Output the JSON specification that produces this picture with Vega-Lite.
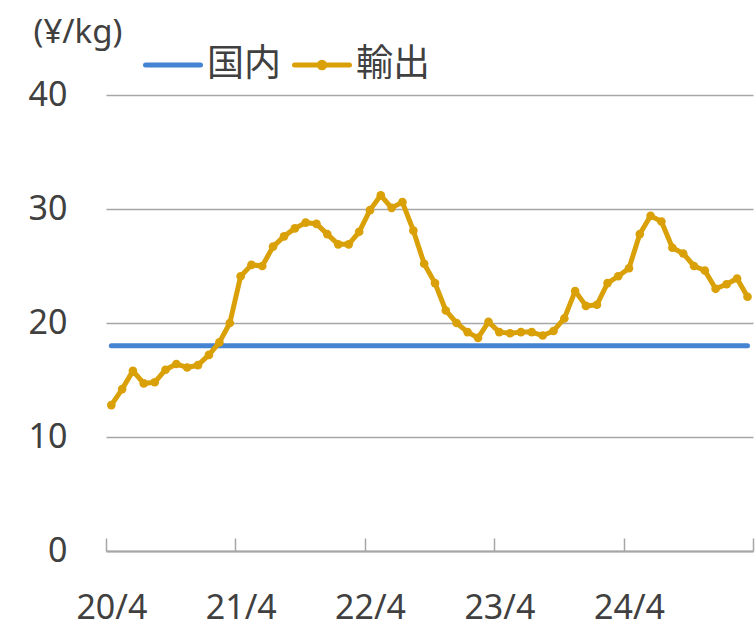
{
  "$schema": "https://vega.github.io/schema/vega-lite/v6.json",
  "width": 647,
  "height": 456,
  "autosize": {"type": "none"},
  "padding": {"left": 106, "top": 95, "right": 2, "bottom": 83},
  "background": "white",
  "config": {
    "view": {"stroke": null},
    "font": "Noto Sans, Noto Sans CJK JP",
    "axis": {
      "labelFont": "Noto Sans, Noto Sans CJK JP",
      "titleFont": "Noto Sans, Noto Sans CJK JP",
      "labelColor": "#404040",
      "titleColor": "#404040",
      "gridColor": "#A6A6A6",
      "gridWidth": 1.3,
      "domainColor": "#A6A6A6",
      "tickColor": "#A6A6A6"
    },
    "axisX": {
      "grid": false,
      "labelAngle": 0,
      "labelFontSize": 34,
      "labelPadding": 53,
      "tickSize": -13,
      "tickWidth": 1.5,
      "domainWidth": 2,
      "labelFlush": false,
      "labelOverlap": false
    },
    "axisY": {
      "domain": false,
      "ticks": false,
      "tickSize": 0,
      "labelFontSize": 34,
      "labelPadding": 39,
      "titleAngle": 0,
      "titleAlign": "left",
      "titleBaseline": "middle",
      "titleX": -73,
      "titleY": -63,
      "titleFontSize": 33,
      "titleFontWeight": "normal"
    },
    "legend": {
      "orient": "none",
      "legendX": 37,
      "legendY": -60,
      "direction": "horizontal",
      "labelFont": "Noto Sans CJK JP",
      "labelFontSize": 37,
      "labelColor": "#404040",
      "symbolSize": 3025,
      "symbolStrokeWidth": 5,
      "labelOffset": 4,
      "columnPadding": 3,
      "padding": 0
    }
  },
  "data": {
    "values": [
      {"m": "2020-04", "domestic": 18, "export": 12.8},
      {"m": "2020-05", "domestic": 18, "export": 14.2},
      {"m": "2020-06", "domestic": 18, "export": 15.8},
      {"m": "2020-07", "domestic": 18, "export": 14.7},
      {"m": "2020-08", "domestic": 18, "export": 14.8},
      {"m": "2020-09", "domestic": 18, "export": 15.9},
      {"m": "2020-10", "domestic": 18, "export": 16.4},
      {"m": "2020-11", "domestic": 18, "export": 16.1},
      {"m": "2020-12", "domestic": 18, "export": 16.3},
      {"m": "2021-01", "domestic": 18, "export": 17.2},
      {"m": "2021-02", "domestic": 18, "export": 18.3},
      {"m": "2021-03", "domestic": 18, "export": 20.0},
      {"m": "2021-04", "domestic": 18, "export": 24.1},
      {"m": "2021-05", "domestic": 18, "export": 25.1},
      {"m": "2021-06", "domestic": 18, "export": 25.0},
      {"m": "2021-07", "domestic": 18, "export": 26.7},
      {"m": "2021-08", "domestic": 18, "export": 27.6},
      {"m": "2021-09", "domestic": 18, "export": 28.3},
      {"m": "2021-10", "domestic": 18, "export": 28.8},
      {"m": "2021-11", "domestic": 18, "export": 28.7},
      {"m": "2021-12", "domestic": 18, "export": 27.8},
      {"m": "2022-01", "domestic": 18, "export": 26.9},
      {"m": "2022-02", "domestic": 18, "export": 26.9},
      {"m": "2022-03", "domestic": 18, "export": 28.0},
      {"m": "2022-04", "domestic": 18, "export": 29.9},
      {"m": "2022-05", "domestic": 18, "export": 31.2},
      {"m": "2022-06", "domestic": 18, "export": 30.1},
      {"m": "2022-07", "domestic": 18, "export": 30.6},
      {"m": "2022-08", "domestic": 18, "export": 28.1},
      {"m": "2022-09", "domestic": 18, "export": 25.2},
      {"m": "2022-10", "domestic": 18, "export": 23.5},
      {"m": "2022-11", "domestic": 18, "export": 21.1},
      {"m": "2022-12", "domestic": 18, "export": 20.0},
      {"m": "2023-01", "domestic": 18, "export": 19.2},
      {"m": "2023-02", "domestic": 18, "export": 18.7},
      {"m": "2023-03", "domestic": 18, "export": 20.1},
      {"m": "2023-04", "domestic": 18, "export": 19.2},
      {"m": "2023-05", "domestic": 18, "export": 19.1},
      {"m": "2023-06", "domestic": 18, "export": 19.2},
      {"m": "2023-07", "domestic": 18, "export": 19.2},
      {"m": "2023-08", "domestic": 18, "export": 18.9},
      {"m": "2023-09", "domestic": 18, "export": 19.3},
      {"m": "2023-10", "domestic": 18, "export": 20.4},
      {"m": "2023-11", "domestic": 18, "export": 22.8},
      {"m": "2023-12", "domestic": 18, "export": 21.5},
      {"m": "2024-01", "domestic": 18, "export": 21.6},
      {"m": "2024-02", "domestic": 18, "export": 23.5},
      {"m": "2024-03", "domestic": 18, "export": 24.1},
      {"m": "2024-04", "domestic": 18, "export": 24.8},
      {"m": "2024-05", "domestic": 18, "export": 27.8},
      {"m": "2024-06", "domestic": 18, "export": 29.4},
      {"m": "2024-07", "domestic": 18, "export": 28.9},
      {"m": "2024-08", "domestic": 18, "export": 26.6},
      {"m": "2024-09", "domestic": 18, "export": 26.1},
      {"m": "2024-10", "domestic": 18, "export": 25.0},
      {"m": "2024-11", "domestic": 18, "export": 24.6},
      {"m": "2024-12", "domestic": 18, "export": 23.0},
      {"m": "2025-01", "domestic": 18, "export": 23.4},
      {"m": "2025-02", "domestic": 18, "export": 23.9},
      {"m": "2025-03", "domestic": 18, "export": 22.3}
    ]
  },
  "layer": [
    {
      "mark": {"type": "line", "strokeWidth": 5, "strokeCap": "round"},
      "encoding": {
        "x": {
          "field": "m", "type": "temporal", "timeUnit": "utcyearmonth", "bandPosition": 0.5, "title": null,
          "scale": {"domain": [{"year": 2020, "month": 4, "date": 1, "utc": true}, {"year": 2025, "month": 4, "date": 1, "utc": true}]},
          "axis": {
            "values": [
              {"year": 2020, "month": 4, "date": 1, "utc": true},
              {"year": 2021, "month": 4, "date": 1, "utc": true},
              {"year": 2022, "month": 4, "date": 1, "utc": true},
              {"year": 2023, "month": 4, "date": 1, "utc": true},
              {"year": 2024, "month": 4, "date": 1, "utc": true},
              {"year": 2025, "month": 4, "date": 1, "utc": true}
            ],
            "labelOffset": 5.4,
            "labelExpr": "utcyear(datum.value) == 2025 ? '' : utcFormat(datum.value, '%y/%-m')"
          }
        },
        "y": {
          "field": "domestic", "type": "quantitative", "title": "(¥/kg)",
          "scale": {"domain": [0, 40], "nice": false},
          "axis": {"values": [0, 10, 20, 30, 40], "grid": true}
        },
        "color": {
          "datum": "国内",
          "scale": {"domain": ["国内", "輸出"], "range": ["#4484D2", "#DAA008"]},
          "legend": {
            "title": null,
            "encode": {
              "symbols": {
                "update": {
                  "shape": {"signal": "datum.value == '輸出' ? 'M-1,0L1,0M-0.1,0A0.1,0.1,0,1,1,0.1,0A0.1,0.1,0,1,1,-0.1,0Z' : 'M-1,0L1,0'"},
                  "fill": {"signal": "datum.value == '輸出' ? '#DAA008' : 'transparent'"},
                  "strokeCap": {"value": "round"}
                }
              }
            }
          }
        }
      }
    },
    {
      "mark": {"type": "line", "strokeWidth": 5, "strokeCap": "round", "strokeJoin": "round"},
      "encoding": {
        "x": {"field": "m", "type": "temporal", "timeUnit": "utcyearmonth", "bandPosition": 0.5, "title": null},
        "y": {"field": "export", "type": "quantitative", "title": "(¥/kg)"},
        "color": {"datum": "輸出"}
      }
    },
    {
      "mark": {"type": "point", "filled": true, "size": 75, "opacity": 1, "color": "#DAA008"},
      "encoding": {
        "x": {"field": "m", "type": "temporal", "timeUnit": "utcyearmonth", "bandPosition": 0.5, "title": null},
        "y": {"field": "export", "type": "quantitative", "title": "(¥/kg)"}
      }
    }
  ]
}
